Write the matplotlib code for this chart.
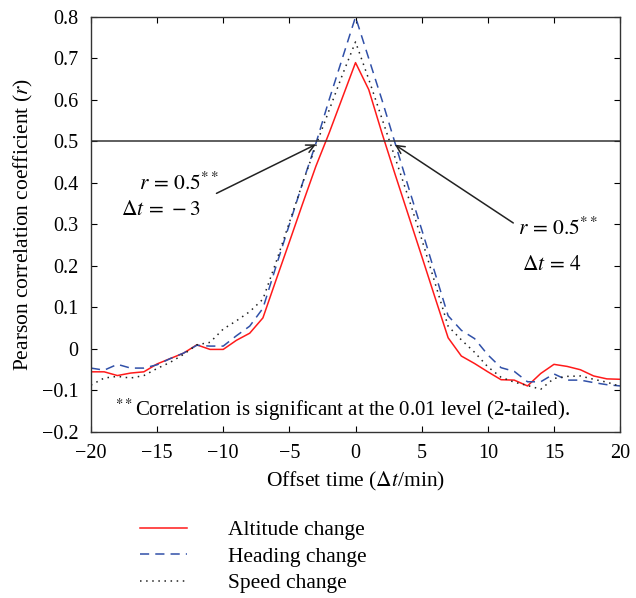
import matplotlib
matplotlib.use("Agg")
import matplotlib.pyplot as plt
import numpy as np

plt.rcParams['font.family'] = ['Liberation Serif', 'DejaVu Serif']
plt.rcParams['mathtext.fontset'] = 'stix'
plt.rcParams['font.size'] = 14.5

offset = np.arange(-20, 21)

altitude = [-0.055, -0.055, -0.064, -0.058, -0.055, -0.036, -0.023, -0.010, 0.010, -0.001,
            -0.001, 0.021, 0.038, 0.075, 0.167, 0.258, 0.350, 0.440, 0.520, 0.605,
            0.690,
            0.625, 0.520, 0.420, 0.322, 0.224, 0.125, 0.027, -0.017, -0.035, -0.055,
            -0.074, -0.075, -0.089, -0.059, -0.037, -0.042, -0.050, -0.065, -0.072, -0.073]

heading = [-0.046, -0.051, -0.037, -0.046, -0.046, -0.038, -0.023, -0.010, 0.009, 0.007,
           0.007, 0.032, 0.055, 0.098, 0.200, 0.300, 0.400, 0.495, 0.600, 0.700,
           0.800,
           0.700, 0.600, 0.495, 0.390, 0.288, 0.184, 0.080, 0.045, 0.025, -0.014,
           -0.045, -0.054, -0.079, -0.079, -0.060, -0.075, -0.075, -0.081, -0.086, -0.089]

speed = [-0.087, -0.070, -0.066, -0.070, -0.064, -0.047, -0.032, -0.013, 0.010, 0.016,
         0.048, 0.068, 0.090, 0.120, 0.210, 0.305, 0.400, 0.490, 0.575, 0.660,
         0.740,
         0.650, 0.555, 0.460, 0.365, 0.265, 0.160, 0.055, 0.022, -0.008, -0.043,
         -0.068, -0.080, -0.088, -0.097, -0.071, -0.066, -0.065, -0.073, -0.080, -0.090]

xticks = [-20, -15, -10, -5, 0, 5, 10, 15, 20]
yticks = [-0.2, -0.1, 0, 0.1, 0.2, 0.3, 0.4, 0.5, 0.6, 0.7, 0.8]
ytick_labels = ['\u22120.2', '\u22120.1', '0', '0.1', '0.2', '0.3', '0.4', '0.5', '0.6', '0.7', '0.8']

fig = plt.figure(figsize=(6.36, 5.98), dpi=100)
ax = fig.add_axes([0.143, 0.2776, 0.832, 0.694])

l1, = ax.plot(offset, altitude, color='#ff1a1a', lw=1.1, label='Altitude change')
l2, = ax.plot(offset, heading, color='#3050a8', lw=1.1, ls=(0, (6, 4)), label='Heading change')
l3, = ax.plot(offset, speed, color='#222222', lw=1.1, ls=(0, (1, 3)), label='Speed change')

ax.axhline(0.5, color='#333333', lw=1.1)

ax.set_xlim(-20, 20)
ax.set_ylim(-0.2, 0.8)
ax.set_xticks(xticks)
ax.set_xticklabels([str(t).replace('-', '\u2212') for t in xticks])
ax.set_yticks(yticks)
ax.set_yticklabels(ytick_labels)
ax.tick_params(direction='in', top=True, right=True, length=4, width=0.8, pad=9)
for s in ax.spines.values():
    s.set_color('#333333')
    s.set_linewidth(1.0)

ax.set_xlabel(r'Offset time ($\Delta t$/min)', fontsize=15.5, labelpad=5)
ax.set_ylabel(r'Pearson correlation coefficient ($r$)', fontsize=15.5, labelpad=5)

# annotations
ax.annotate('', xy=(-2.8, 0.496), xytext=(-10.7, 0.372),
            arrowprops=dict(arrowstyle='->', color='#222222', lw=1.1))
ax.text(-10.3, 0.398, r'$r\,=\,0.5^{**}$', ha='right', va='center', fontsize=15.5)
ax.text(-11.7, 0.333, r'$\Delta t\,=\,-3$', ha='right', va='center', fontsize=15.5)

ax.annotate('', xy=(2.8, 0.496), xytext=(12.1, 0.30),
            arrowprops=dict(arrowstyle='->', color='#222222', lw=1.1))
ax.text(12.3, 0.29, r'$r\,=\,0.5^{**}$', ha='left', va='center', fontsize=15.5)
ax.text(12.6, 0.20, r'$\Delta t\,=\,4$', ha='left', va='center', fontsize=15.5)

ax.text(-18.2, -0.147, r'$^{**}$Correlation is significant at the 0.01 level (2-tailed).',
        ha='left', va='center', fontsize=15)

fig.legend(handles=[l1, l2, l3], loc='upper left', bbox_to_anchor=(0.22, 0.130),
           frameon=False, handlelength=2.2, handletextpad=1.9, labelspacing=0.3,
           fontsize=15.5, borderaxespad=0, borderpad=0)

fig.savefig('out.png', dpi=100)
